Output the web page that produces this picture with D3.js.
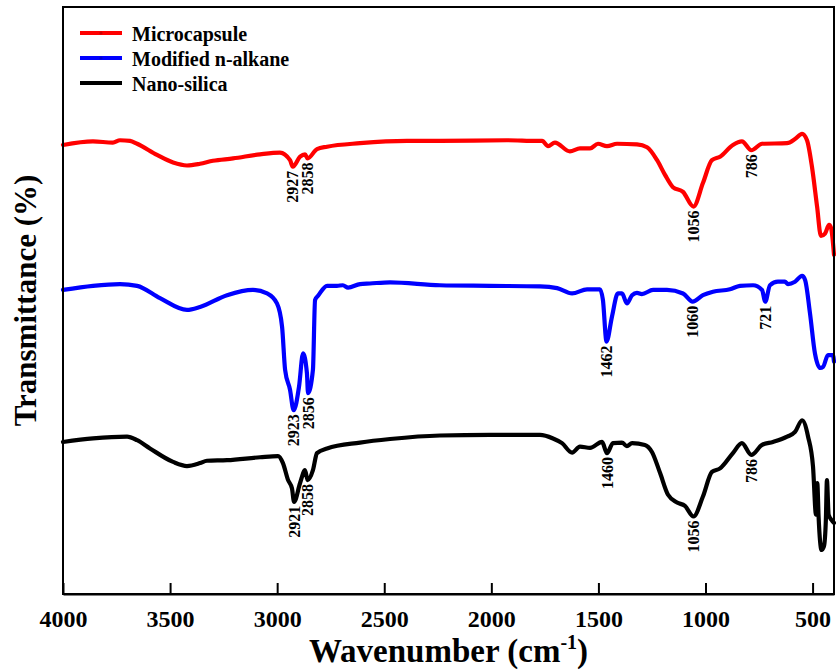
<!DOCTYPE html>
<html>
<head>
<meta charset="utf-8">
<script src="https://cdn.jsdelivr.net/npm/d3@7"></script>
<style>
  html, body { margin: 0; padding: 0; background: #fff; }
  svg { display: block; }
  text { font-family: "Liberation Serif", "Times New Roman", serif; font-weight: bold; fill: #000; }
</style>
</head>
<body>
<svg id="chart" width="836" height="672"></svg>
<script>
// FTIR spectra: [wavenumber (cm-1), transmittance (offset, a.u.)]
const microcapsule = [
  [4000,76.5],[3860,77.1],[3767,76.9],[3734,77.3],[3687,77.2],[3654,76.7],[3561,74.8],[3486,73.5],
  [3421,73.0],[3360,73.3],[3300,73.8],[3206,74.2],[3080,74.9],[2987,75.2],[2940,73.9],[2927,72.8],
  [2893,74.5],[2870,74.9],[2858,74.2],[2814,75.8],[2767,76.2],[2613,76.8],[2394,77.2],[2240,77.2],
  [1927,77.3],[1787,77.2],[1763,77.2],[1735,76.3],[1703,76.9],[1633,75.4],[1586,75.9],[1539,75.9],
  [1502,76.7],[1460,76.3],[1413,76.7],[1320,76.6],[1273,76.1],[1226,73.9],[1189,71.4],[1152,69.3],
  [1105,68.5],[1056,66.0],[1012,70.0],[970,73.9],[932,74.5],[872,76.5],[830,77.1],[786,75.6],
  [736,76.7],[619,76.8],[582,77.5],[549,78.4],[526,77.3],[503,72.8],[479,66.0],[461,61.0],
  [442,61.4],[423,62.9],[414,62.4],[400,57.8]
];
const modifiedAlkane = [
  [4000,51.8],[3860,52.5],[3734,52.8],[3654,52.5],[3547,50.4],[3421,48.4],[3360,48.9],[3234,50.9],
  [3113,51.8],[3047,51.2],[3001,49.5],[2977,45.5],[2963,38.2],[2940,34.8],[2923,31.3],[2898,35.3],
  [2879,41.0],[2861,37.6],[2856,34.2],[2833,38.2],[2823,50.1],[2809,50.8],[2767,52.5],[2721,52.5],
  [2693,52.6],[2669,52.2],[2613,52.8],[2567,52.9],[2473,53.1],[2240,52.6],[2006,52.5],[1773,52.4],
  [1693,52.1],[1623,51.2],[1553,51.9],[1493,51.9],[1479,50.1],[1462,43.0],[1437,47.2],[1409,51.2],
  [1390,51.2],[1367,49.5],[1343,50.9],[1320,51.3],[1297,51.1],[1245,51.8],[1180,51.8],[1105,51.2],
  [1060,49.8],[1012,50.9],[965,51.5],[886,51.9],[839,52.5],[778,52.6],[736,51.8],[721,49.8],
  [699,52.6],[662,53.2],[629,53.2],[615,52.8],[582,53.2],[549,54.2],[535,53.5],[512,47.8],
  [489,41.0],[465,38.5],[451,38.7],[428,40.7],[405,40.7],[400,39.6]
];
const nanoSilica = [
  [4000,25.9],[3860,26.5],[3701,26.8],[3654,26.2],[3594,24.8],[3486,22.5],[3421,21.8],[3360,22.3],
  [3328,22.7],[3234,22.8],[3080,23.3],[2996,23.5],[2973,22.3],[2949,19.4],[2931,18.0],[2921,15.7],
  [2893,18.9],[2870,21.1],[2858,19.4],[2833,21.1],[2814,24.0],[2767,24.8],[2613,25.8],[2473,26.4],
  [2240,27.0],[2006,27.1],[1773,27.1],[1712,26.5],[1670,25.7],[1623,24.1],[1586,25.1],[1539,24.9],
  [1483,25.9],[1460,24.0],[1432,25.7],[1390,25.8],[1367,25.2],[1343,25.7],[1283,25.4],[1250,24.2],
  [1212,20.6],[1175,16.9],[1133,15.6],[1096,15.0],[1056,13.2],[1012,16.6],[970,20.8],[932,21.4],
  [872,24.0],[830,25.7],[786,23.7],[736,25.4],[685,25.9],[619,26.8],[582,27.6],[549,29.6],
  [521,26.8],[498,21.7],[484,13.5],[478,18.9],[472,13.2],[458,7.5],[447,8.1],[438,12.6],
  [433,19.4],[425,13.5],[411,12.6],[400,12.1]
];

// Band assignments annotated on each spectrum
const microcapsulePeaks = [2927, 2858, 1056, 786];
const modifiedAlkanePeaks = [2923, 2856, 1462, 1060, 721];
const nanoSilicaPeaks = [2921, 2858, 1460, 1056, 786];

const seriesNames = ["Microcapsule", "Modified n-alkane", "Nano-silica"];
const seriesColors = ["#ff0000", "#0000ff", "#000000"];
const xTicks = [4000, 3500, 3000, 2500, 2000, 1500, 1000, 500];

const series = [
  { name: seriesNames[0], color: seriesColors[0], data: microcapsule, peaks: microcapsulePeaks },
  { name: seriesNames[1], color: seriesColors[1], data: modifiedAlkane, peaks: modifiedAlkanePeaks },
  { name: seriesNames[2], color: seriesColors[2], data: nanoSilica, peaks: nanoSilicaPeaks }
];

const svg = d3.select("#chart");
const margin = { left: 63, right: 2, top: 7, bottom: 78 };
const W = 836, H = 672;
const x = d3.scaleLinear().domain([4000, 400]).range([margin.left, W - margin.right]);
const y = d3.scaleLinear().domain([0, 100]).range([H - margin.bottom, margin.top]);

// spectra
const line = d3.line()
  .x(d => x(d[0]))
  .y(d => y(d[1]))
  .curve(d3.curveMonotoneX);

const plot = svg.append("g");
series.forEach(s => {
  plot.append("path")
    .datum(s.data)
    .attr("fill", "none")
    .attr("stroke", s.color)
    .attr("stroke-width", 4.2)
    .attr("stroke-linejoin", "round")
    .attr("stroke-linecap", "round")
    .attr("d", line);
});

// peak labels, rotated, hanging below each band minimum
series.forEach(s => {
  s.peaks.forEach(p => {
    const pt = s.data.find(d => d[0] === p);
    const px = x(p), py = y(pt[1]) + 4;
    svg.append("text")
      .attr("transform", `translate(${px},${py}) rotate(-90)`)
      .attr("text-anchor", "end")
      .attr("dy", "0.35em")
      .style("font-size", "16px")
      .text(p);
  });
});

// frame and bottom axis
svg.append("rect")
  .attr("x", x.range()[0]).attr("y", y.range()[1])
  .attr("width", x.range()[1] - x.range()[0])
  .attr("height", y.range()[0] - y.range()[1])
  .attr("fill", "none").attr("stroke", "#000").attr("stroke-width", 2);

const xAxis = d3.axisBottom(x)
  .tickValues(xTicks)
  .tickFormat(d3.format("d"))
  .tickSizeInner(-11).tickSizeOuter(0).tickPadding(16);
const gx = svg.append("g").attr("transform", `translate(0,${y.range()[0]})`).call(xAxis);
gx.select(".domain").attr("stroke-width", 2);
gx.selectAll(".tick line").attr("stroke-width", 2);
gx.selectAll(".tick text")
  .style("font-size", "24px")
  .style("font-family", "'Liberation Serif', serif")
  .style("font-weight", "bold");

// axis titles
const xt = svg.append("text")
  .attr("x", (x.range()[0] + x.range()[1]) / 2)
  .attr("y", 662)
  .attr("text-anchor", "middle")
  .style("font-size", "33px");
xt.append("tspan").text("Wavenumber (cm");
xt.append("tspan").attr("dy", -13).style("font-size", "20px").text("-1");
xt.append("tspan").attr("dy", 13).text(")");

svg.append("text")
  .attr("transform", `translate(36,${(y.range()[0] + y.range()[1]) / 2}) rotate(-90)`)
  .attr("text-anchor", "middle")
  .style("font-size", "31px")
  .text("Transmittance (%)");

// legend
const legend = svg.append("g");
series.forEach((s, i) => {
  const by = 41 + i * 25;
  legend.append("line")
    .attr("x1", 80).attr("x2", 122)
    .attr("y1", by - 8).attr("y2", by - 8)
    .attr("stroke", s.color).attr("stroke-width", 4);
  legend.append("circle")
    .attr("cx", 101).attr("cy", by - 8).attr("r", 1.6)
    .attr("fill", d3.color(s.color).darker(0.6));
  legend.append("text")
    .attr("x", 132).attr("y", by)
    .style("font-size", "20px")
    .text(s.name);
});
</script>
</body>
</html>
